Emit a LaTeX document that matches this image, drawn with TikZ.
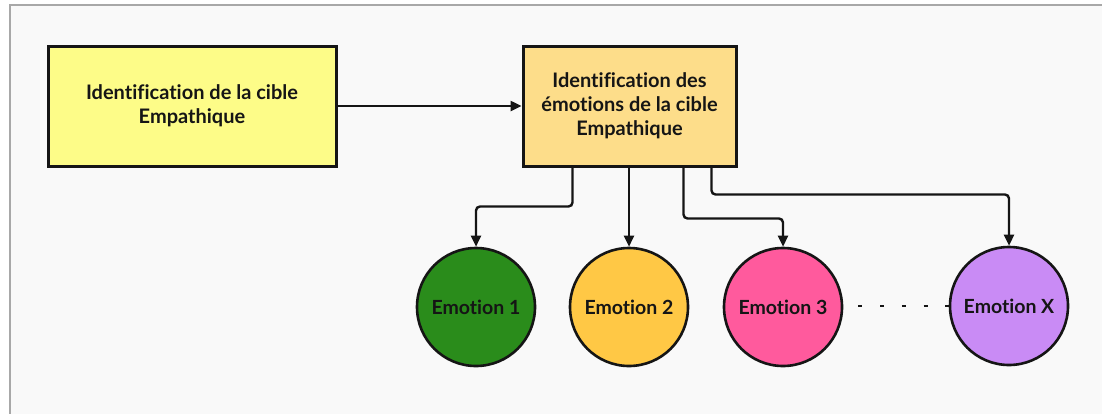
\documentclass[tikz,border=0pt]{standalone}
\usepackage{fontspec}
\setmainfont{Lato}[Ligatures=NoCommon]
\usetikzlibrary{arrows.meta,calc}

\definecolor{framegray}{HTML}{A8A8A8}
\definecolor{canvas}{HTML}{F9F9F9}
\definecolor{boxyellow}{HTML}{FDFC88}
\definecolor{boxorange}{HTML}{FDDD8A}
\definecolor{emogreen}{HTML}{2A8C1B}
\definecolor{emoyellow}{HTML}{FFC845}
\definecolor{emopink}{HTML}{FF5A9D}
\definecolor{emoviolet}{HTML}{C98BF5}
\definecolor{ink}{HTML}{151515}

\tikzset{
  stagebox/.style={draw=ink, line width=3pt, rectangle, align=center,
    text=ink, font=\fontsize{20}{24}\selectfont\bfseries, inner sep=0pt},
  emotion/.style={draw=ink, line width=2.6pt, circle, minimum size=118pt,
    inner sep=0pt, text=ink, font=\fontsize{19.5}{22}\selectfont\bfseries},
  conn/.style={draw=ink, line width=2.4pt, rounded corners=4pt,
    -{Triangle[length=11pt,width=10pt]}},
}

\begin{document}
\begin{tikzpicture}[x=1pt,y=-1pt]
  \useasboundingbox (0,0) rectangle (1102,413);
  \fill[white] (0,0) rectangle (1102,413);
  \draw[framegray, fill=canvas, line width=2pt] (10,5) rectangle (1112,425);

  % two process stages
  \node[stagebox, fill=boxyellow, minimum width=288pt, minimum height=120pt]
    (b1) at (192,106) {Identification de la cible\\Empathique};
  \node[stagebox, fill=boxorange, minimum width=213pt, minimum height=120pt]
    (b2) at (629.5,106) {Identification des\\émotions de la cible\\Empathique};

  % emotions
  \node[emotion, fill=emogreen]  (e1) at (476,307)  {Emotion 1};
  \node[emotion, fill=emoyellow] (e2) at (629,307)  {Emotion 2};
  \node[emotion, fill=emopink]   (e3) at (783,307)  {Emotion 3};
  \node[emotion, fill=emoviolet] (ex) at (1009,306) {Emotion X};

  % connectors
  \draw[conn] (b1.east) -- (b2.west);
  \draw[conn] ([xshift=51pt]b2.south west) -- ++(0,39) -| (e1.north);
  \draw[conn] (b2.south -| e2.north) -- (e2.north);
  \draw[conn] ([xshift=162pt]b2.south west) -- ++(0,51) -| (e3.north);
  \draw[conn] ([xshift=190pt]b2.south west) -- ++(0,27) -| (ex.north);

  % continuation between the last two emotions
  \draw[ink, line width=2.4pt, dash pattern=on 4pt off 17.75pt]
    ([xshift=15pt]e3.east |- ex.west) -- (ex.west);
\end{tikzpicture}
\end{document}
